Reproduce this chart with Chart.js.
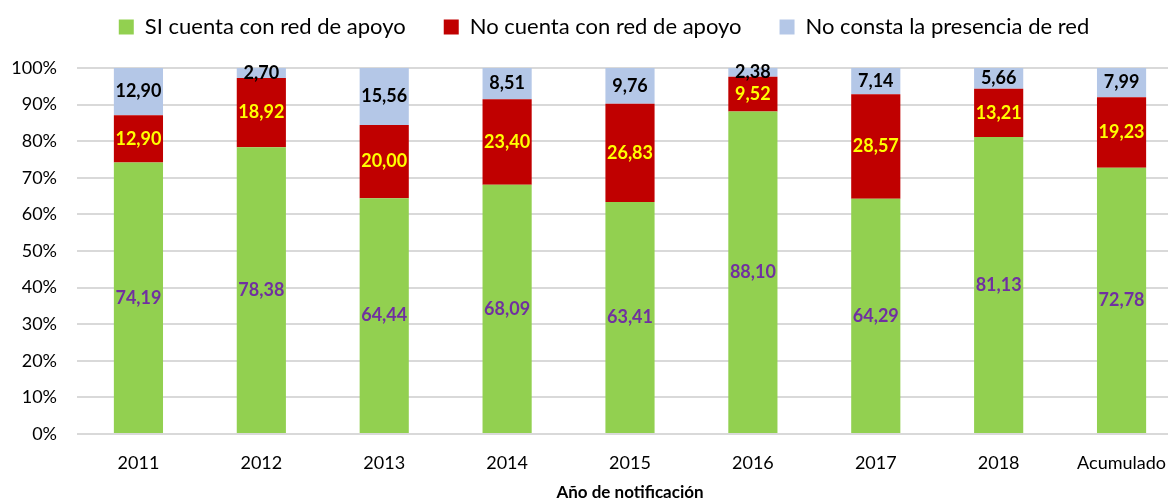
<!DOCTYPE html>
<html>
<head>
<meta charset="utf-8">
<script src="https://cdn.jsdelivr.net/npm/chart.js@4.4.0/dist/chart.umd.min.js"></script>
<style>
  html, body { margin: 0; padding: 0; background: #fff; overflow: hidden; }
  #wrap { width: 1184px; height: 503px; }
</style>
</head>
<body>
<div id="wrap"><canvas id="chart" width="1184" height="503"></canvas></div>
<script>
const years = ['2011', '2012', '2013', '2014', '2015', '2016', '2017', '2018', 'Acumulado'];
const conRed = [74.19, 78.38, 64.44, 68.09, 63.41, 88.10, 64.29, 81.13, 72.78];
const sinRed = [12.90, 18.92, 20.00, 23.40, 26.83, 9.52, 28.57, 13.21, 19.23];
const noConsta = [12.90, 2.70, 15.56, 8.51, 9.76, 2.38, 7.14, 5.66, 7.99];

const labelColors = ['#7030A0', '#FFFF00', '#000000'];

// writes the value in the middle of each stacked segment
const segmentLabels = {
  id: 'segmentLabels',
  afterDatasetsDraw(chart) {
    const ctx = chart.ctx;
    ctx.save();
    ctx.font = 'bold 18px Lato';
    ctx.textAlign = 'center';
    ctx.textBaseline = 'middle';
    chart.data.datasets.forEach((ds, i) => {
      chart.getDatasetMeta(i).data.forEach((bar, j) => {
        const y = (bar.y + bar.base) / 2;
        ctx.fillStyle = labelColors[i];
        ctx.fillText(ds.data[j].toFixed(2).replace('.', ','), bar.x, y);
      });
    });
    ctx.restore();
  }
};

// nudge the legend (up and a bit right) without moving the plot
const legendShift = {
  id: 'legendShift',
  afterLayout(chart) {
    const lg = chart.legend;
    lg.top -= 20; lg.bottom -= 20;
    lg.left += 8; lg.right += 8;
  }
};

new Chart(document.getElementById('chart'), {
  type: 'bar',
  data: {
    labels: years,
    datasets: [
      { label: 'SI cuenta con red de apoyo', data: conRed, backgroundColor: '#92D050' },
      { label: 'No cuenta con red de apoyo', data: sinRed, backgroundColor: '#C00000' },
      { label: 'No consta la presencia de red', data: noConsta, backgroundColor: '#B4C7E7' }
    ]
  },
  options: {
    responsive: false,
    animation: false,
    layout: { padding: { top: -2, left: 8, right: 0, bottom: 0 } },
    datasets: { bar: { categoryPercentage: 1, barPercentage: 0.4 } },
    plugins: {
      legend: {
        position: 'top',
        labels: {
          color: '#000',
          font: { family: 'Lato', size: 22 },
          boxWidth: 15,
          boxHeight: 15,
          padding: 38
        }
      },
      tooltip: { enabled: false }
    },
    scales: {
      x: {
        stacked: true,
        grid: { display: false, drawTicks: false },
        border: { display: false },
        ticks: { color: '#000', font: { family: 'Lato', size: 18 }, padding: 18 },
        title: {
          display: true,
          text: 'Año de notificación',
          color: '#000',
          font: { family: 'Lato', size: 17, weight: 'bold' },
          padding: { top: 9, bottom: 0 }
        },
        afterFit: s => { s.height = 69; }
      },
      y: {
        stacked: true,
        min: 0,
        max: 100,
        ticks: {
          stepSize: 10,
          color: '#000',
          font: { family: 'Lato', size: 18 },
          padding: 20,
          callback: v => v + '%'
        },
        grid: { color: '#D9D9D9', lineWidth: 2, drawTicks: false },
        border: { display: false },
        afterFit: s => { s.width = 69; }
      }
    }
  },
  plugins: [segmentLabels, legendShift]
});
</script>
</body>
</html>
